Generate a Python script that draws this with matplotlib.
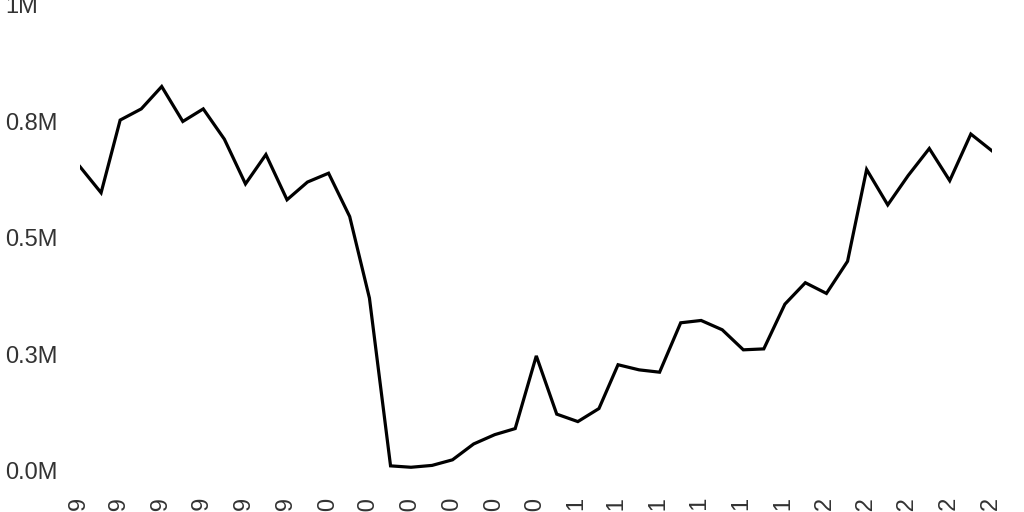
import numpy as np
import pandas as pd
import matplotlib
matplotlib.use("Agg")
import matplotlib.pyplot as plt
import matplotlib.dates as mdates

# monthly series, Jan 2019 - Sep 2022
months = pd.date_range("2019-01-01", periods=45, freq="MS")
values = [
    653000, 597000, 753000, 777000, 825000, 750000, 777000, 712000, 616000, 679000,
    582000, 620000, 639000, 546000, 371000, 11000, 8000, 12000, 24000, 58000,
    78000, 91000, 247000, 122000, 106000, 134000, 228000, 217000, 212000, 318000,
    323000, 303000, 260000, 262000, 358000, 404000, 381000, 450000, 647000, 571000,
    634000, 692000, 623000, 723000, 687000,
]
ytick_values = [0, 250000, 500000, 750000, 1000000]
ytick_labels = ["0.0M", "0.3M", "0.5M", "0.8M", "1M"]

plt.rcParams["font.family"] = ["Liberation Sans", "DejaVu Sans"]

fig = plt.figure(figsize=(10.24, 5.12), dpi=100)
ax = fig.add_axes([0.0781, 0.0801, 0.8906, 0.9102])

ax.plot(months, values, color="black", linewidth=2.3, solid_joinstyle="miter")

ax.set_xlim(months[0], months[-1])
ax.set_ylim(0, 1000000)

ax.xaxis.set_major_locator(mdates.MonthLocator(bymonth=[1, 3, 5, 7, 9, 11]))
ax.xaxis.set_major_formatter(mdates.DateFormatter("%b %Y"))
ax.set_yticks(ytick_values)
ax.set_yticklabels(ytick_labels)

ax.tick_params(axis="x", length=0, pad=19.5, labelsize=17, labelcolor="#333333",
               labelrotation=90)
ax.tick_params(axis="y", length=0, pad=54, labelsize=17, labelcolor="#333333")
for lab in ax.get_yticklabels():
    lab.set_horizontalalignment("left")
for lab in ax.get_xticklabels():
    lab.set_verticalalignment("top")

for s in ax.spines.values():
    s.set_visible(False)

fig.savefig("out.png", dpi=100)
